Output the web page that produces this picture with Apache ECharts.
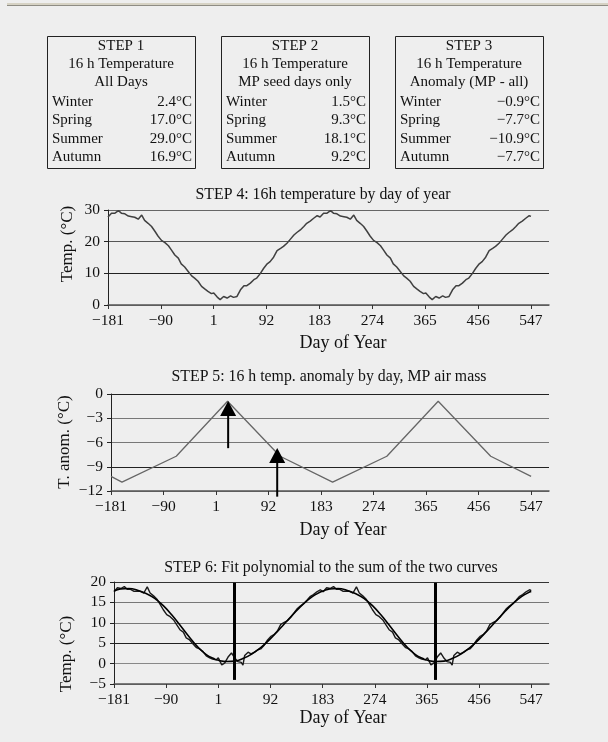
<!DOCTYPE html>
<html>
<head>
<meta charset="utf-8">
<script src="https://cdn.jsdelivr.net/npm/echarts@6/dist/echarts.min.js"></script>
<style>
  html, body { margin: 0; padding: 0; background: #eeeeee; }
  #chart { width: 608px; height: 742px; }
</style>
</head>
<body>
<div id="chart"></div>
<script>
const FONT = '"Liberation Serif", "DejaVu Serif", serif';

// Seasonal summary tables (steps 1-3)
const seasons = ['Winter', 'Spring', 'Summer', 'Autumn'];
const step1Temps = [2.4, 17.0, 29.0, 16.9];
const step2Temps = [1.5, 9.3, 18.1, 9.2];
const step3Anoms = [-0.9, -7.7, -10.9, -7.7];
const tableHeads = [
  ['STEP 1', '16 h Temperature', 'All Days'],
  ['STEP 2', '16 h Temperature', 'MP seed days only'],
  ['STEP 3', '16 h Temperature', 'Anomaly (MP - all)']
];

// Day-of-year ticks shared by the three panels
const dayTicks = [-181, -90, 1, 92, 183, 274, 365, 456, 547];

// STEP 4: 16 h temperature over one year (repeats each year)
const sampleDays = [1, 7, 12, 18, 24, 30, 35, 41, 44, 47,
  53, 58, 64, 70, 75, 81, 87, 93, 98, 104,
  110, 116, 121, 127, 133, 139, 144, 150, 156, 161,
  167, 173, 179, 182, 184, 190, 196, 202, 207, 213,
  219, 225, 230, 236, 242, 247, 253, 259, 265, 270,
  276, 282, 288, 293, 299, 305, 310, 316, 322, 328,
  333, 339, 345, 351, 356, 362];
const temp16h = [3.8, 2.5, 1.7, 2.7, 2.2, 2.9, 2.4, 2.7, 2.2, 4.8,
  6.1, 6.1, 6.9, 8.0, 8.5, 9.9, 11.6, 13.0, 13.7, 15.1,
  17.2, 17.9, 18.5, 19.5, 20.8, 22.1, 22.9, 23.7, 24.8, 25.8,
  26.5, 27.4, 28.2, 28.0, 27.8, 29.0, 29.0, 29.8, 29.0, 28.8,
  28.1, 27.9, 27.7, 27.1, 28.4, 26.7, 25.8, 24.8, 23.2, 21.8,
  20.4, 19.7, 18.7, 17.4, 15.8, 14.8, 13.0, 12.0, 10.6, 9.2,
  8.5, 7.5, 5.9, 5.0, 4.3, 3.6];

// STEP 6: temperature plus MP anomaly, same sample days
const sumTemps = [1.4, -0.3, 0.1, 1.6, 2.6, 1.3, 0.5, 0.3, -0.4, 2.0,
  2.8, 2.4, 2.8, 3.4, 3.6, 4.5, 5.8, 6.7, 7.1, 8.0,
  9.6, 10.1, 10.5, 11.3, 12.4, 13.5, 14.1, 14.7, 15.6, 16.4,
  16.9, 17.6, 18.1, 17.9, 17.6, 18.6, 18.4, 18.9, 18.2, 18.2,
  17.7, 17.8, 17.7, 17.3, 18.8, 17.3, 16.6, 15.8, 14.4, 13.2,
  12.0, 11.5, 10.7, 9.6, 8.3, 7.7, 6.3, 5.8, 4.8, 3.9,
  3.6, 3.0, 1.9, 1.4, 1.1, 0.9];

// STEP 6: fitted polynomial
const fitDays = [1, 15, 30, 45, 60, 75, 90, 105, 120, 135, 150, 165, 180, 182, 184,
  195, 210, 225, 240, 255, 270, 285, 300, 315, 330, 345, 360];
const fitTemps = [0.8, 0.5, 0.6, 1.3, 2.4, 3.9, 5.8, 8.0, 10.3, 12.6, 14.7, 16.4, 17.6, 17.7, 17.8,
  18.3, 18.4, 18.0, 17.2, 16.0, 14.2, 11.9, 9.3, 6.6, 4.1, 2.2, 1.1];

// STEP 5: anomaly knots at mid-season days, values from the STEP 3 table
const seasonMidDays = [21, 112, 203, 297];
const anomalyEndDays = [-181, 547];
const anomalyEndValues = [-10.2, -10.2];

// STEP 5 arrows (day, shaft bottom, arrowhead centre)
const arrowDays = [22, 107];
const arrowBase = [-6.7, -12.7];
const arrowHead = [-1.8, -7.6];

// STEP 6 vertical markers
const markerDays = [29, 379];
const markerTop = 19.8;
const markerBottom = -4;

const DAY_MIN = -181, DAY_MAX = 547, AXIS_MAX = 578;

function spanYears(days, vals) {
  const pts = [];
  [-365, 0, 365].forEach(shift => {
    days.forEach((d, i) => {
      const x = d + shift;
      if (x >= DAY_MIN && x <= DAY_MAX) pts.push([x, vals[i]]);
    });
  });
  return pts;
}

function anomalyLine() {
  const pts = [[anomalyEndDays[0], anomalyEndValues[0]]];
  [-365, 0, 365].forEach(shift => {
    seasonMidDays.forEach((d, i) => {
      const x = d + shift;
      if (x > DAY_MIN && x < DAY_MAX) pts.push([x, step3Anoms[i]]);
    });
  });
  pts.push([anomalyEndDays[1], anomalyEndValues[1]]);
  return pts;
}

const minus = v => String(v).replace('-', '\u2212');
const fmtC = v => minus(v.toFixed(1)) + '\u00B0C';

// panel geometry
const grids = [
  { left: 108, top: 210, width: 441, height: 95 },
  { left: 111, top: 394, width: 438, height: 97 },
  { left: 114, top: 582, width: 435, height: 102 }
];
const yRanges = [
  { min: 0, max: 30, interval: 10, colors: ['#777', '#222', '#555', '#666'] },
  { min: -12, max: 0, interval: 3, colors: ['#777', '#222', '#777', '#777', '#222'] },
  { min: -5, max: 20, interval: 5, colors: ['#777', '#888', '#222', '#777', '#777', '#333'] }
];
const panelTitles = [
  'STEP 4: 16h temperature by day of year',
  'STEP 5: 16 h temp. anomaly by day, MP air mass',
  'STEP 6: Fit polynomial to the sum of the two curves'
];
const titleCenters = [323, 329, 331];
const titleTops = [187, 369, 560];
const yNames = ['Temp. (\u00B0C)', 'T. anom. (\u00B0C)', 'Temp. (\u00B0C)'];
const yNamePos = [[68, 244], [65, 442], [67, 654]];
const xNameY = [343, 530, 718];

const xAxes = grids.map((g, i) => ({
  type: 'value', gridIndex: i, min: DAY_MIN, max: AXIS_MAX,
  axisLine: { show: true, onZero: false, lineStyle: { color: '#555', width: 1.5 } },
  axisTick: { show: true, customValues: dayTicks, length: 4, lineStyle: { color: '#333' } },
  axisLabel: { customValues: dayTicks, formatter: minus, fontFamily: FONT, fontSize: 15.5, color: '#111', margin: 8 },
  splitLine: { show: false }
}));
const yAxes = yRanges.map((r, i) => ({
  type: 'value', gridIndex: i, min: r.min, max: r.max, interval: r.interval,
  axisLine: { show: true, onZero: false, lineStyle: { color: '#222', width: 1 } },
  axisTick: { show: true, length: 4, lineStyle: { color: '#222' } },
  axisLabel: { formatter: minus, fontFamily: FONT, fontSize: 15.5, color: '#111', margin: 8 },
  splitLine: { show: true, lineStyle: { color: r.colors, width: 1 } }
}));

// frame strip and table graphics
const graphics = [
  { type: 'rect', shape: { x: 7, y: 3, width: 601, height: 2 }, style: { fill: '#d6d2c4' }, silent: true },
  { type: 'rect', shape: { x: 7, y: 5, width: 601, height: 1 }, style: { fill: '#8e8c84' }, silent: true }
];
const boxX = [47, 221, 395];
const tableVals = [step1Temps, step2Temps, step3Anoms];
boxX.forEach((bx, t) => {
  graphics.push({ type: 'rect', shape: { x: bx + 0.5, y: 36.5, width: 148, height: 132 },
    style: { fill: 'none', stroke: '#222', lineWidth: 1 }, silent: true });
  tableHeads[t].forEach((line, k) => {
    graphics.push({ type: 'text', silent: true, style: { text: line, x: bx + 74, y: [46, 64, 82][k],
      font: '15px ' + FONT, fill: '#111', align: 'center', verticalAlign: 'middle' } });
  });
  seasons.forEach((s, k) => {
    const y = [102, 120, 139, 157][k];
    graphics.push({ type: 'text', silent: true, style: { text: s, x: bx + 5, y,
      font: '15px ' + FONT, fill: '#111', align: 'left', verticalAlign: 'middle' } });
    graphics.push({ type: 'text', silent: true, style: { text: fmtC(tableVals[t][k]), x: bx + 145, y,
      font: '15px ' + FONT, fill: '#111', align: 'right', verticalAlign: 'middle' } });
  });
});
yNames.forEach((n, i) => {
  graphics.push({ type: 'text', silent: true, x: yNamePos[i][0], y: yNamePos[i][1], rotation: Math.PI / 2,
    style: { text: n, x: 0, y: 0, font: '17px ' + FONT, fill: '#111', align: 'center', verticalAlign: 'middle' } });
  graphics.push({ type: 'text', silent: true, style: { text: 'Day of Year', x: 343, y: xNameY[i],
    font: '18px ' + FONT, fill: '#111', align: 'center', verticalAlign: 'middle' } });
});

const series = [
  { type: 'line', xAxisIndex: 0, yAxisIndex: 0, data: spanYears(sampleDays, temp16h),
    showSymbol: false, lineStyle: { color: '#404040', width: 1.5 } },
  { type: 'line', xAxisIndex: 1, yAxisIndex: 1, data: anomalyLine(),
    showSymbol: false, lineStyle: { color: '#666', width: 1.3 } },
  { type: 'line', xAxisIndex: 2, yAxisIndex: 2, data: spanYears(sampleDays, sumTemps),
    showSymbol: false, lineStyle: { color: '#1a1a1a', width: 1.4 },
    markLine: { silent: true, symbol: 'none', label: { show: false }, animation: false,
      lineStyle: { color: '#000', width: 3, type: 'solid' },
      data: markerDays.map(d => [{ coord: [d, markerTop] }, { coord: [d, markerBottom] }]) } },
  { type: 'line', xAxisIndex: 2, yAxisIndex: 2, data: spanYears(fitDays, fitTemps), smooth: 0.4,
    showSymbol: false, lineStyle: { color: '#000', width: 1.6 } }
];
arrowDays.forEach((d, i) => {
  series.push({ type: 'line', xAxisIndex: 1, yAxisIndex: 1, clip: false, silent: true,
    lineStyle: { color: '#000', width: 2 },
    data: [ { value: [d, arrowBase[i]], symbol: 'none' },
            { value: [d, arrowHead[i]], symbol: 'triangle', symbolSize: [16, 15],
              itemStyle: { color: '#000' } } ],
    showSymbol: true, showAllSymbol: true });
});

const chart = echarts.init(document.getElementById('chart'), null, { renderer: 'canvas' });
chart.setOption({
  backgroundColor: '#eeeeee',
  animation: false,
  textStyle: { fontFamily: FONT },
  title: panelTitles.map((t, i) => ({
    text: t, left: titleCenters[i], top: titleTops[i], textAlign: 'center', padding: 0,
    textStyle: { fontFamily: FONT, fontSize: 15.8, fontWeight: 'normal', color: '#111' }
  })),
  grid: grids,
  xAxis: xAxes,
  yAxis: yAxes,
  graphic: graphics,
  series
});
</script>
</body>
</html>
